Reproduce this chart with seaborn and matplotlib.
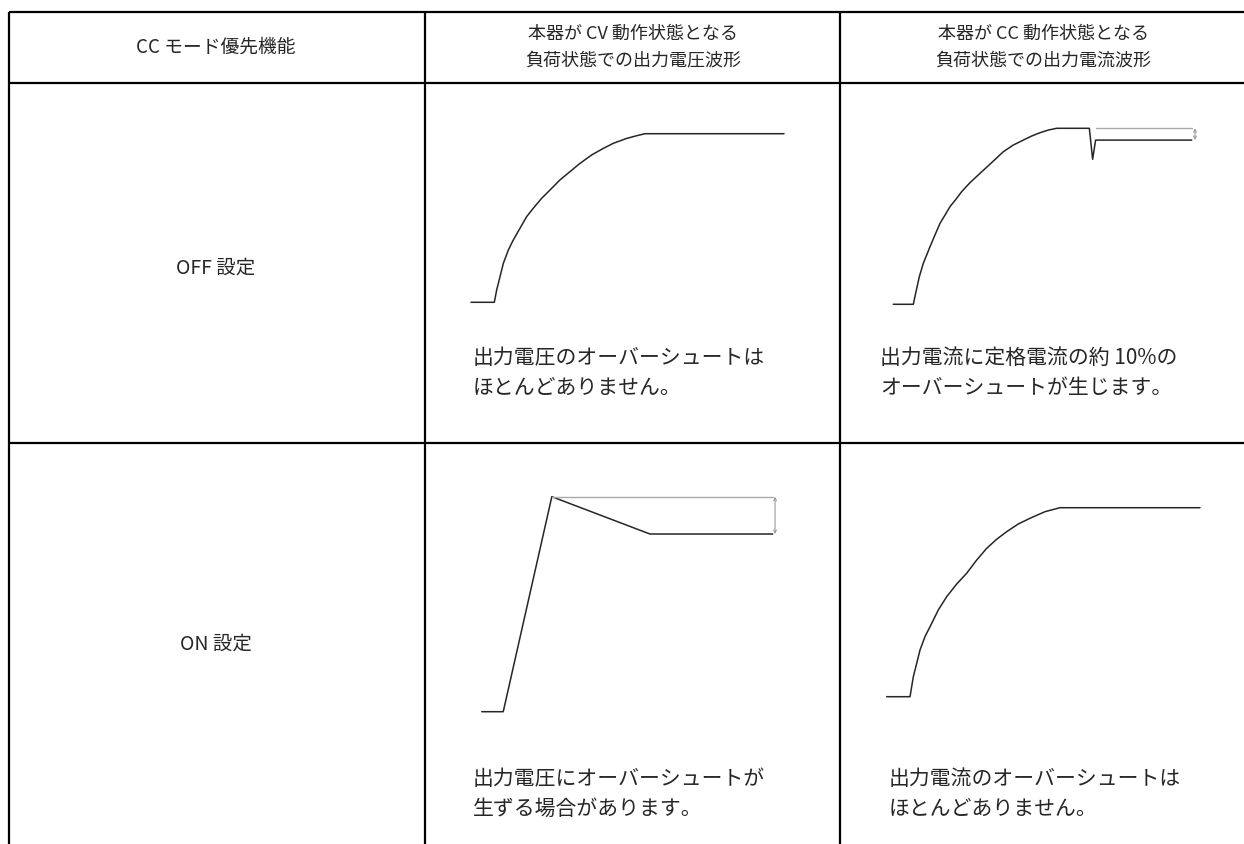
import seaborn as sns
import matplotlib.pyplot as plt
import pandas as pd

sns.set_theme(style="white")
plt.rcParams['font.family'] = ['Noto Sans CJK JP', 'DejaVu Sans']

# table text
header = ["CC モード優先機能",
          "本器が CV 動作状態となる\n負荷状態での出力電圧波形",
          "本器が CC 動作状態となる\n負荷状態での出力電流波形"]
row_labels = ["OFF 設定", "ON 設定"]
captions = [["出力電圧のオーバーシュートは\nほとんどありません。",
             "出力電流に定格電流の約 10%の\nオーバーシュートが生じます。"],
            ["出力電圧にオーバーシュートが\n生ずる場合があります。",
             "出力電流のオーバーシュートは\nほとんどありません。"]]

# waveforms (t: normalised time, level: 1 = top of the curve box)
off_v_t = [0, 0.0745, 0.082, 0.0927, 0.1033, 0.1193, 0.1352, 0.1565, 0.1778, 0.1991,
           0.2258, 0.2524, 0.2843, 0.3163, 0.3482, 0.3855, 0.4228, 0.4547, 0.4973,
           0.5293, 0.5559, 1.0]
off_v_lvl = [0, 0, 0.073, 0.152, 0.231, 0.310, 0.370, 0.439, 0.508, 0.558,
             0.617, 0.666, 0.726, 0.775, 0.824, 0.874, 0.913, 0.943, 0.972,
             0.988, 1.0, 1.0]

off_i_t = [0, 0.0671, 0.0761, 0.0872, 0.1006, 0.1230, 0.1397, 0.1565, 0.1733, 0.1900,
           0.2101, 0.2291, 0.2570, 0.2905, 0.3296, 0.3687, 0.4022, 0.4357, 0.4637,
           0.4916, 0.5195, 0.5475, 0.657, 0.668, 0.678, 1.0]
off_i_lvl = [0, 0, 0.072, 0.157, 0.233, 0.327, 0.394, 0.460, 0.507, 0.555,
             0.597, 0.640, 0.691, 0.744, 0.805, 0.867, 0.905, 0.933, 0.956,
             0.975, 0.990, 1.0, 1.0, 0.824, 0.933, 0.933]
off_i_ref = 1.0        # overshoot level (grey line)
off_i_final = 0.933

on_v_t = [0, 0.074, 0.241, 0.578, 1.0]
on_v_lvl = [0, 0, 1.21, 1.0, 1.0]
on_v_ref = 1.21
on_v_final = 1.0

on_i_t = [0, 0.0744, 0.0850, 0.0957, 0.1063, 0.1222, 0.1382, 0.1648, 0.1914, 0.2233,
          0.2552, 0.2872, 0.3191, 0.3510, 0.3829, 0.4201, 0.4574, 0.5053, 0.5531, 1.0]
on_i_lvl = [0, 0, 0.106, 0.176, 0.247, 0.318, 0.370, 0.459, 0.529, 0.596,
            0.653, 0.723, 0.785, 0.833, 0.873, 0.914, 0.944, 0.979, 1.0, 1.0]

W, H = 1244, 844
fig = plt.figure(figsize=(W / 100, H / 100), dpi=100)
base = fig.add_axes([0, 0, 1, 1])
base.set_xlim(0, W)
base.set_ylim(H, 0)
base.axis("off")

# grid
col_x = [9, 425, 840]
row_y = [12, 83, 443]
lw = 1.6
for y in row_y:
    base.plot([col_x[0], W], [y, y], color="black", lw=lw, solid_capstyle="butt")
for x in col_x:
    base.plot([x, x], [row_y[0], H], color="black", lw=lw, solid_capstyle="butt")

# header
base.text(216, 47, header[0], ha="center", va="center", fontsize=13.5)
base.text(633, 47, header[1], ha="center", va="center", fontsize=13, linespacing=1.6)
base.text(1043, 47, header[2], ha="center", va="center", fontsize=13, linespacing=1.6)

# row labels
base.text(216, 268, row_labels[0], ha="center", va="center", fontsize=14)
base.text(216, 644, row_labels[1], ha="center", va="center", fontsize=14)

# captions
cap_pos = [[(473, 373), (880, 373)], [(473, 794), (889, 794)]]
for r in range(2):
    for c in range(2):
        x, y = cap_pos[r][c]
        base.text(x, y, captions[r][c], ha="left", va="center", fontsize=15,
                  linespacing=1.45)


def wave_axes(x0, x1, y_bottom, y_top):
    # y_top is the pixel row of level 1.0
    ax = fig.add_axes([x0 / W, 1 - y_bottom / H, (x1 - x0) / W, (y_bottom - y_top) / H])
    ax.axis("off")
    return ax


def draw(ax, t, lvl):
    df = pd.DataFrame({"t": t, "level": lvl})
    sns.lineplot(data=df, x="t", y="level", ax=ax, sort=False, estimator=None,
                 color="#262626", lw=1.1, clip_on=False)
    ax.set_xlim(0, 1)
    ax.set_ylim(0, 1)
    ax.axis("off")


def arrow(ax, t, lo, hi):
    ax.annotate("", xy=(t, hi), xytext=(t, lo), xycoords="data",
                arrowprops=dict(arrowstyle="<->", color="#999999", lw=0.8,
                                mutation_scale=5, shrinkA=0, shrinkB=0),
                annotation_clip=False)


# OFF / voltage
ax = wave_axes(471, 784, 302.3, 133.7)
draw(ax, off_v_t, off_v_lvl)

# OFF / current
ax = wave_axes(893.3, 1191.7, 304.3, 128.3)
draw(ax, off_i_t, off_i_lvl)
ax.plot([0.678, 1.0], [off_i_ref, off_i_ref], color="#aaaaaa", lw=1, clip_on=False)
arrow(ax, 1.011, off_i_final, off_i_ref)

# ON / voltage
ax = wave_axes(481.7, 772.7, 711.7, 534)
draw(ax, on_v_t, on_v_lvl)
ax.plot([0.241, 1.0], [on_v_ref, on_v_ref], color="#aaaaaa", lw=1, clip_on=False)
arrow(ax, 1.008, on_v_final, on_v_ref)

# ON / current
ax = wave_axes(886.7, 1200, 696.7, 507.7)
draw(ax, on_i_t, on_i_lvl)

fig.savefig("out.png", dpi=100)
